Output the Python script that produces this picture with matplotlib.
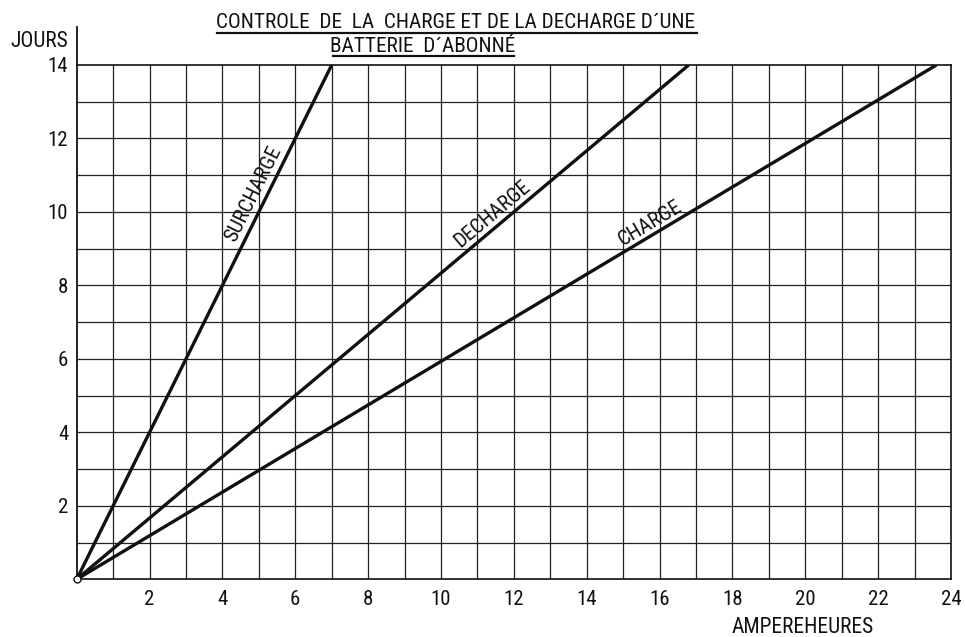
import numpy as np
import matplotlib
matplotlib.use("Agg")
import matplotlib.pyplot as plt
from matplotlib import font_manager

# ---- data ----
x_ticks = [2, 4, 6, 8, 10, 12, 14, 16, 18, 20, 22, 24]
y_ticks = [2, 4, 6, 8, 10, 12, 14]
series_names = ["SURCHARGE", "DECHARGE", "CHARGE"]
series_x = {"SURCHARGE": [0, 7.0], "DECHARGE": [0, 16.8], "CHARGE": [0, 23.6]}
series_y = {"SURCHARGE": [0, 14], "DECHARGE": [0, 14], "CHARGE": [0, 14]}
label_pos = {"SURCHARGE": (4.85, 10.5), "DECHARGE": (11.4, 9.95), "CHARGE": (15.75, 9.7)}
title_line1 = "CONTROLE  DE  LA  CHARGE ET DE LA DECHARGE D\u00b4UNE"
title_line2 = "BATTERIE  D\u00b4ABONN\u00c9"
xlabel = "AMPEREHEURES"
ylabel = "JOURS"

# ---- font choice ----
avail = {f.name for f in font_manager.fontManager.ttflist}
cond = None
for cand in ["DejaVu Sans Condensed", "Liberation Sans Narrow", "Roboto Condensed", "Open Sans Condensed"]:
    if cand in avail:
        cond = cand
        break
if cond is None:
    FAM = ["DejaVu Sans"]
    SCALE = 0.88
else:
    FAM = [cond, "DejaVu Sans"]
    SCALE = 1.0
plt.rcParams['font.family'] = FAM

fig = plt.figure(figsize=(9.65, 6.37), dpi=100)
ax = fig.add_axes([76.7 / 965, 1 - 579.3 / 637, (951 - 76.7) / 965, (579.3 - 65) / 637])
ax.set_xlim(0, 24)
ax.set_ylim(0, 14)

# grid
for gx in range(1, 24):
    ax.axvline(gx, color="#222222", lw=0.9, zorder=1)
for gy in range(1, 14):
    ax.axhline(gy, color="#222222", lw=0.9, zorder=1)

for s in ["top", "right", "bottom", "left"]:
    ax.spines[s].set_linewidth(1.2)
    ax.spines[s].set_color("#111111")
ax.spines["left"].set_visible(False)
# extended left axis
ax.plot([0, 0], [0, 15.03], color="#111111", lw=1.3, clip_on=False, zorder=3)

ax.set_xticks(x_ticks)
ax.set_yticks(y_ticks)
ax.set_xticklabels([str(v) for v in x_ticks], fontsize=15 * SCALE)
ax.set_yticklabels([str(v) for v in y_ticks], fontsize=15 * SCALE)
ax.tick_params(axis="x", length=0, pad=8, colors="#111111")
ax.tick_params(axis="y", length=0, pad=6, colors="#111111")

# lines
for name in series_names:
    ax.plot(series_x[name], series_y[name], color="#111111", lw=2.4,
            solid_capstyle="butt", zorder=4)
    x1, y1 = series_x[name][1], series_y[name][1]
    ang = np.degrees(np.arctan2(y1, x1))
    lx, ly = label_pos[name]
    ax.text(lx, ly, name, rotation=ang, transform_rotates_text=True,
            rotation_mode="anchor", ha="center", va="center",
            fontsize=15 * SCALE, color="#111111", zorder=5)

ax.plot([0], [0], marker="o", ms=5, mfc="white", mec="#111111", mew=1,
        clip_on=False, zorder=6, ls="none")

# axis labels
fig.text(803 / 965, 1 - 633 / 637, xlabel, ha="center", va="baseline",
         fontsize=15.5 * SCALE, color="#111111")
fig.text(39 / 965, 1 - 47 / 637, ylabel, ha="center", va="baseline",
         fontsize=15.5 * SCALE, color="#111111")

# title with underlines
fig.text(456 / 965, 1 - 28 / 637, title_line1, ha="center", va="baseline",
         fontsize=15.3 * SCALE, color="#111111")
fig.text(423 / 965, 1 - 51.5 / 637, title_line2, ha="center", va="baseline",
         fontsize=15.3 * SCALE, color="#111111")
fig.add_artist(plt.Line2D([217 / 965, 697 / 965], [1 - 32.5 / 637, 1 - 32.5 / 637],
                          color="#111111", lw=1.6, transform=fig.transFigure))
fig.add_artist(plt.Line2D([333 / 965, 514 / 965], [1 - 55.5 / 637, 1 - 55.5 / 637],
                          color="#111111", lw=1.6, transform=fig.transFigure))

fig.savefig("out.png", dpi=100)
